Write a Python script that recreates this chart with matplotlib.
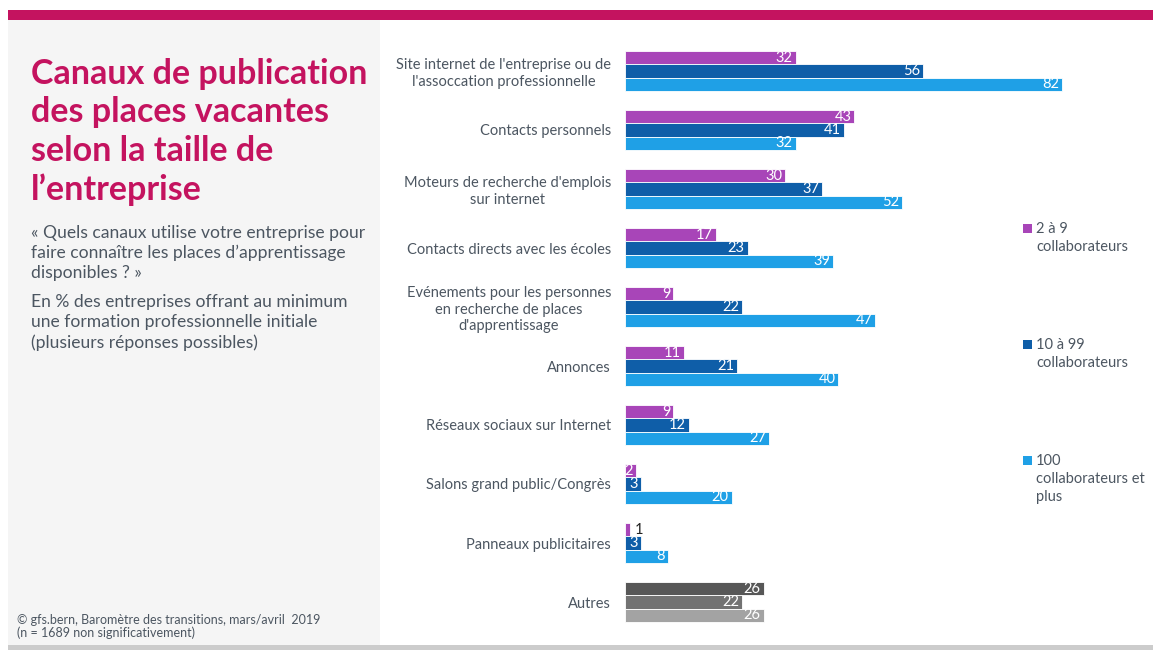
import matplotlib
matplotlib.use("Agg")
import matplotlib.pyplot as plt
from matplotlib.patches import Rectangle

categories = [
    "Site internet de l'entreprise ou de\nl'assoccation professionnelle",
    "Contacts personnels",
    "Moteurs de recherche d'emplois\nsur internet",
    "Contacts directs avec les écoles",
    "Evénements pour les personnes\nen recherche de places\nd'apprentissage",
    "Annonces",
    "Réseaux sociaux sur Internet",
    "Salons grand public/Congrès",
    "Panneaux publicitaires",
    "Autres",
]
small = [32, 43, 30, 17, 9, 11, 9, 2, 1, 26]      # 2 à 9 collaborateurs
medium = [56, 41, 37, 23, 22, 21, 12, 3, 3, 22]   # 10 à 99 collaborateurs
large = [82, 32, 52, 39, 47, 40, 27, 20, 8, 26]   # 100 collaborateurs et plus
series_names = ["2 à 9\ncollaborateurs", "10 à 99\ncollaborateurs", "100\ncollaborateurs et\nplus"]

colors = ["#A845B8", "#0F5EA8", "#1FA0E6"]
grey_colors = ["#575757", "#727272", "#A3A3A3"]
text_grey = "#4C5661"
magenta = "#C4135F"

plt.rcParams['font.family'] = ['Lato', 'DejaVu Sans']

W, H = 1153, 650
fig = plt.figure(figsize=(W / 100, H / 100), dpi=100)

def fx(px):
    return px / W

def fy(py):
    return 1 - py / H

# background decorations
fig.patches.append(Rectangle((fx(8), fy(20)), fx(1153 - 8), 10 / H, transform=fig.transFigure,
                             facecolor=magenta, edgecolor='none', zorder=0))
fig.patches.append(Rectangle((fx(8), fy(645)), fx(380 - 8), (645 - 20) / H, transform=fig.transFigure,
                             facecolor="#F5F5F5", edgecolor='none', zorder=0))
fig.patches.append(Rectangle((fx(8), fy(650)), fx(1153 - 8), 5 / H, transform=fig.transFigure,
                             facecolor="#CCCCCC", edgecolor='none', zorder=0))

# title block
title_lines = ["Canaux de publication", "des places vacantes", "selon la taille de", "l\u2019entreprise"]
for i, line in enumerate(title_lines):
    fig.text(fx(31), fy(74 + i * 38.5), line, color=magenta, fontsize=24.5, fontweight='bold',
             va='center', ha='left')

sub1 = ["« Quels canaux utilise votre entreprise pour", "faire connaître les places d\u2019apprentissage",
        "disponibles ? »"]
for i, line in enumerate(sub1):
    fig.text(fx(31), fy(233 + i * 20), line, color=text_grey, fontsize=12.6, va='center', ha='left')
sub2 = ["En % des entreprises offrant au minimum", "une formation professionnelle initiale",
        "(plusieurs réponses possibles)"]
for i, line in enumerate(sub2):
    fig.text(fx(31), fy(302 + i * 20.5), line, color=text_grey, fontsize=12.6, va='center', ha='left')

fig.text(fx(17), fy(620), "© gfs.bern, Baromètre des transitions, mars/avril  2019", color=text_grey,
         fontsize=9, va='center', ha='left')
fig.text(fx(17), fy(633), "(n = 1689 non significativement)", color=text_grey,
         fontsize=9, va='center', ha='left')

# chart axes
px_per_unit = (1062 - 625) / 82
xmax = 90
ax_left, ax_top, ax_bottom = 625, 41.5, 631.5
ax = fig.add_axes([fx(ax_left), fy(ax_bottom), xmax * px_per_unit / W, (ax_bottom - ax_top) / H])
ax.set_xlim(0, xmax)
ax.set_ylim(len(categories) - 0.5, -0.5)
for s in ax.spines.values():
    s.set_visible(False)
ax.set_xticks([])
ax.patch.set_alpha(0)

bh = 0.226
offsets = [-bh, 0, bh]
all_series = [small, medium, large]
for si, vals in enumerate(all_series):
    for ci, v in enumerate(vals):
        y = ci + offsets[si]
        c = grey_colors[si] if categories[ci] == "Autres" else colors[si]
        ax.barh(y, v, height=bh, color=c, edgecolor='white', linewidth=0.6)
        if v < 2:
            ax.annotate(str(v), (v, y), xytext=(3, 0), textcoords='offset points',
                        ha='left', va='center', color='#222222', fontsize=10.5)
        else:
            ax.annotate(str(v), (v, y), xytext=(-2, 0), textcoords='offset points',
                        ha='right', va='center', color='white', fontsize=10.5)

ax.set_yticks(range(len(categories)))
ax.set_yticklabels(categories)
ax.tick_params(axis='y', length=0, pad=10, labelsize=10.5, labelcolor=text_grey)
for t in ax.get_yticklabels():
    t.set_multialignment('center')

# legend
leg_y = [228, 344, 460]
for i, name in enumerate(series_names):
    fig.patches.append(Rectangle((fx(1023), fy(leg_y[i] + 5)), 9 / W, 9 / H, transform=fig.transFigure,
                                 facecolor=colors[i], edgecolor='none'))
    fig.text(fx(1036), fy(leg_y[i] - 6), name, color=text_grey, fontsize=10.5, va='top', ha='left',
             linespacing=1.35)

fig.savefig("out.png", dpi=100)
